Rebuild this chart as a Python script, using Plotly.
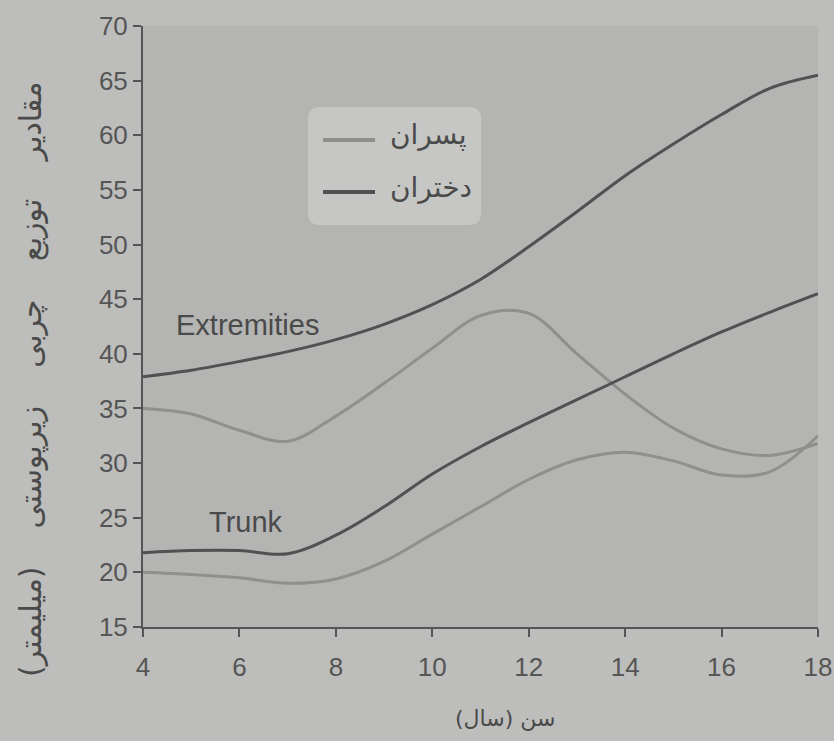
import plotly.graph_objects as go

ages = [4, 5, 6, 7, 8, 9, 10, 11, 12, 13, 14, 15, 16, 17, 18]
girls_extremities = [37.9, 38.5, 39.3, 40.2, 41.3, 42.7, 44.5, 46.8, 49.8, 53.0, 56.3, 59.2, 61.9, 64.3, 65.5]
boys_extremities = [35.0, 34.5, 33.0, 32.0, 34.3, 37.3, 40.5, 43.5, 43.7, 40.0, 36.3, 33.2, 31.3, 30.7, 31.8]
girls_trunk = [21.8, 22.0, 22.0, 21.7, 23.4, 26.0, 29.0, 31.5, 33.7, 35.8, 37.9, 40.0, 42.0, 43.8, 45.5]
boys_trunk = [20.0, 19.8, 19.5, 19.0, 19.4, 21.0, 23.5, 26.0, 28.5, 30.3, 31.0, 30.2, 28.9, 29.2, 32.5]

legend_boys = "پسران"
legend_girls = "دختران"
x_title = "سن (سال)"
gap = "\u00a0" * 4
y_title = gap.join(["مقادیر", "توزیع", "چربی", "زیرپوستی", "(میلیمتر)"])
x_ticks = [4, 6, 8, 10, 12, 14, 16, 18]
y_ticks = [15, 20, 25, 30, 35, 40, 45, 50, 55, 60, 65, 70]

dark = "#505150"
light = "#8f908e"
text_col = "#4a4a4a"

L, R, T, B = 143, 16, 26, 114
W, H = 834, 741
PW, PH = W - L - R, H - T - B


def px(xp):
    return (xp - L) / PW


def py(yp):
    return (H - B - yp) / PH


fig = go.Figure()
for yv, col, nm in [(boys_extremities, light, legend_boys), (girls_extremities, dark, legend_girls),
                    (boys_trunk, light, legend_boys), (girls_trunk, dark, legend_girls)]:
    fig.add_trace(go.Scatter(x=ages, y=yv, mode="lines", line=dict(color=col, width=3, shape="spline"),
                             name=nm, showlegend=False))

# manual legend box with rounded corners
x0, x1, y0, y1, r = 308, 481, 107, 225, 12
rx, ry = r / PW, r / PH
X0, X1, Y0, Y1 = px(x0), px(x1), py(y1), py(y0)
path = (f"M {X0+rx},{Y0} L {X1-rx},{Y0} Q {X1},{Y0} {X1},{Y0+ry} L {X1},{Y1-ry} Q {X1},{Y1} {X1-rx},{Y1} "
        f"L {X0+rx},{Y1} Q {X0},{Y1} {X0},{Y1-ry} L {X0},{Y0+ry} Q {X0},{Y0} {X0+rx},{Y0} Z")
fig.add_shape(type="path", path=path, xref="paper", yref="paper", fillcolor="#c6c7c5",
              line=dict(width=0), layer="above")
for yy, col, txt in [(140, light, legend_boys), (192, dark, legend_girls)]:
    fig.add_shape(type="line", xref="paper", yref="paper", x0=px(323), x1=px(375), y0=py(yy), y1=py(yy),
                  line=dict(color=col, width=4), layer="above")
    fig.add_annotation(xref="paper", yref="paper", x=px(388), y=py(yy - 5), xanchor="left", yanchor="middle",
                       text=txt, showarrow=False, font=dict(size=28, color=text_col, family="DejaVu Sans"))

fig.add_annotation(x=6.16, y=42.6, text="Extremities", showarrow=False,
                   font=dict(size=29, color=text_col, family="Liberation Sans, Arial"))
fig.add_annotation(x=6.14, y=24.6, text="Trunk", showarrow=False,
                   font=dict(size=29, color=text_col, family="Liberation Sans, Arial"))
fig.add_annotation(xref="paper", yref="paper", x=px(31), y=py(380), xanchor="center", yanchor="middle",
                   text=y_title, textangle=-90,
                   showarrow=False, font=dict(size=30, color=text_col, family="DejaVu Sans"))
fig.add_annotation(xref="paper", yref="paper", x=px(505), y=py(718), xanchor="center", yanchor="middle",
                   text=x_title, showarrow=False, font=dict(size=22, color=text_col, family="DejaVu Sans"))

fig.update_layout(
    width=W, height=H,
    margin=dict(l=L, r=R, t=T, b=B),
    paper_bgcolor="#bdbebb",
    plot_bgcolor="#b4b5b3",
    font=dict(family="Liberation Sans, Arial", size=26, color="#555555"),
    showlegend=False,
    xaxis=dict(range=[4, 18], tickvals=x_ticks, showgrid=False, zeroline=False, automargin=False,
               showline=True, linecolor="#555555", linewidth=2, ticks="outside",
               ticklen=8, tickwidth=2, tickcolor="#555555", ticklabelstandoff=8),
    yaxis=dict(range=[15, 70], tickvals=y_ticks, showgrid=False, zeroline=False, automargin=False,
               showline=True, linecolor="#555555", linewidth=2, ticks="outside",
               ticklen=8, tickwidth=2, tickcolor="#555555"),
)

fig.write_html("out.html", config={"displayModeBar": False},
               post_script="document.body.style.margin='0';document.body.style.background='#bdbebb';")
